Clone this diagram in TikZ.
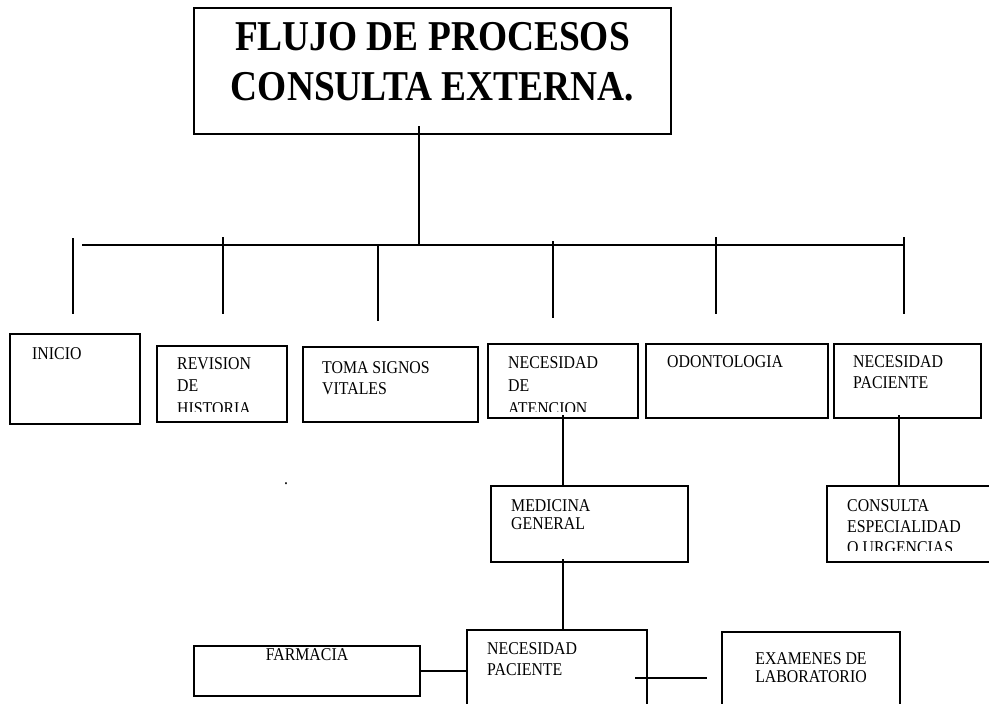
\documentclass[tikz,border=0pt]{standalone}
\usepackage{fontspec}
\setmainfont{Liberation Serif}[FakeStretch=0.88]
\usetikzlibrary{positioning}

\begin{document}
\begin{tikzpicture}[x=1pt, y=-1pt,
  procbox/.style={draw, rectangle, line width=2pt, inner sep=0pt, anchor=north west},
  txt/.style={font=\fontsize{18}{21}\selectfont, align=left, inner sep=0pt, anchor=base west},
  link/.style={line width=1.6pt}]
\useasboundingbox (0,0) rectangle (989,704);

% Title
\node[procbox, minimum width=477pt, minimum height=126pt] (titulo) at (193,7) {};
\node[font=\fontsize{42.5}{50}\selectfont\bfseries, align=center, inner sep=0pt, anchor=base] (titulotxt) at ([shift={(0,93)}]titulo.north) {FLUJO DE PROCESOS\\CONSULTA EXTERNA.};

% First row of boxes
\node[procbox, minimum width=130pt, minimum height=90pt] (inicio) at (9,333) {};
\node[procbox, minimum width=130pt, minimum height=76pt] (revision) at (156,345) {};
\node[procbox, minimum width=175pt, minimum height=75pt] (signos) at (302,346) {};
\node[procbox, minimum width=150pt, minimum height=74pt] (atencion) at (487,343) {};
\node[procbox, minimum width=182pt, minimum height=74pt] (odonto) at (645,343) {};
\node[procbox, minimum width=147pt, minimum height=74pt] (necpac) at (833,343) {};

\node[txt] at ([shift={(23,26)}]inicio.north west) {INICIO};
\begin{scope}
  \clip (revision.north west) rectangle ([yshift=12pt]revision.south east);
  \node[txt, font=\fontsize{18}{22.5}\selectfont] at ([shift={(21,69)}]revision.north west) {REVISION\\DE\\HISTORIA};
\end{scope}
\node[txt] at ([shift={(20,48)}]signos.north west) {TOMA SIGNOS\\VITALES};
\begin{scope}
  \clip (atencion.north west) rectangle ([yshift=8pt]atencion.south east);
  \node[txt, font=\fontsize{18}{23}\selectfont] at ([shift={(21,71)}]atencion.north west) {NECESIDAD\\DE\\ATENCION};
\end{scope}
\node[txt] at ([shift={(22,24)}]odonto.north west) {ODONTOLOGIA};
\node[txt] at ([shift={(20,45)}]necpac.north west) {NECESIDAD\\PACIENTE};

% Second level
\node[procbox, minimum width=197pt, minimum height=76pt] (medicina) at (490,485) {};
\node[procbox, minimum width=175pt, minimum height=76pt] (consulta) at (826,485) {};
\node[txt, font=\fontsize{18}{18}\selectfont] at ([shift={(21,44)}]medicina.north west) {MEDICINA\\GENERAL};
\begin{scope}
  \clip (consulta.north west) rectangle ([yshift=13pt]consulta.south east);
  \node[txt] at ([shift={(21,68)}]consulta.north west) {CONSULTA\\ESPECIALIDAD\\O URGENCIAS};
\end{scope}
\node[font=\fontsize{18}{21}\selectfont, inner sep=0pt] (punto) at (286,484) {.};

% Third level
\node[procbox, minimum width=180pt, minimum height=96pt] (necpacdos) at (466,629) {};
\node[procbox, minimum width=226pt, minimum height=50pt] (farmacia) at (193,645) {};
\node[procbox, minimum width=178pt, minimum height=92pt] (examenes) at (721,631) {};
\node[txt] at ([shift={(21,46)}]necpacdos.north west) {NECESIDAD\\PACIENTE};
\node[txt, anchor=base] at ([shift={(0,15)}]farmacia.north) {FARMACIA};
\node[txt, anchor=base, align=center, font=\fontsize{18}{18}\selectfont] at ([shift={(0,51)}]examenes.north) {EXAMENES DE\\LABORATORIO};

% Bus under the title
\coordinate (busizq) at (82,245);
\coordinate (busder) at (904,245);
\draw[line width=2.6pt] (busizq) -- (busder);
\draw[link] ([shift={(-13.5,-9)}]titulo.south) -- ([xshift=-13.5pt]titulo.south |- busizq);
\foreach \x/\a/\b [count=\i] in {73/238/314, 223/237/314, 378/245/321, 553/241/318, 716/237/314, 904/237/314}
  \draw[link] (\x,\a) coordinate (rama\i) -- (\x,\b);

% Connectors
\draw[link] ([yshift=4pt]atencion.south) -- (atencion.south |- medicina.north);
\draw[link] ([yshift=4pt]atencion.south |- medicina.south) -- (atencion.south |- necpacdos.north);
\draw[link] ([shift={(-8.5,-4)}]necpac.south) -- ([xshift=-8.5pt]necpac.south |- consulta.north);
\draw[link] (farmacia.east) -- (farmacia.east -| necpacdos.west);
\draw[link] ([xshift=-13pt]necpacdos.east) -- ([xshift=-14pt]examenes.west);
\end{tikzpicture}
\end{document}
